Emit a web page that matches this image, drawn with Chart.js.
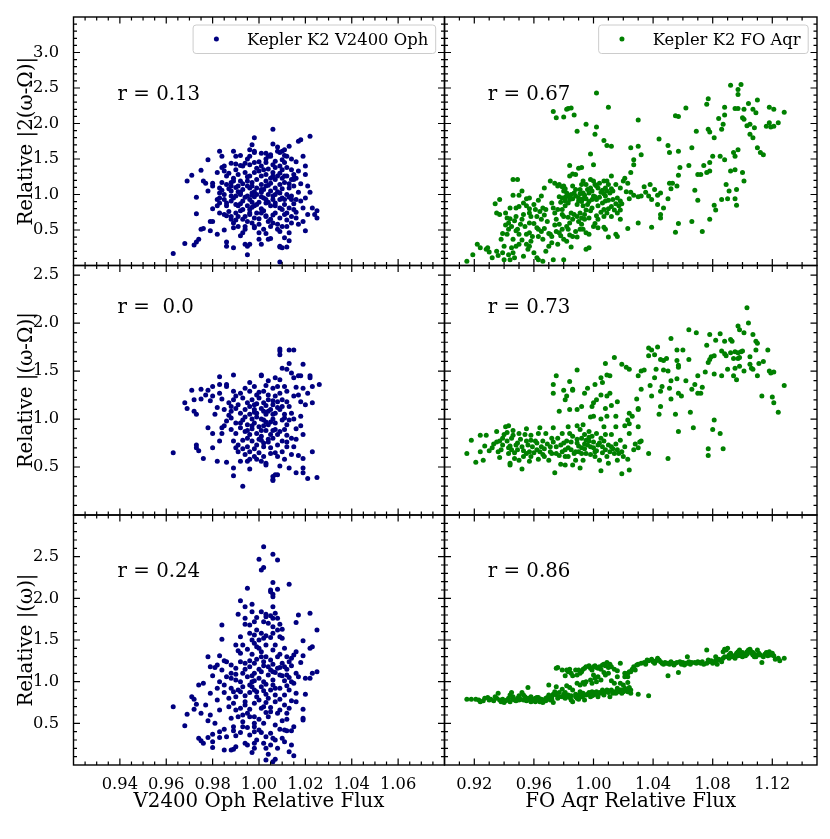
<!DOCTYPE html>
<html>
<head>
<meta charset="utf-8">
<script src="https://cdn.jsdelivr.net/npm/chart.js@4.4.0/dist/chart.umd.min.js"></script>
<style>
  html, body { margin: 0; padding: 0; background: #fff; }
  #fig { position: relative; width: 830px; height: 839px; overflow: hidden; }
  #fig canvas { position: absolute; left: 0; top: 0; }
</style>
</head>
<body>
<div id="fig">
  <canvas id="p0" width="830" height="839"></canvas>
  <canvas id="p1" width="830" height="839"></canvas>
  <canvas id="p2" width="830" height="839"></canvas>
  <canvas id="p3" width="830" height="839"></canvas>
  <canvas id="p4" width="830" height="839"></canvas>
  <canvas id="p5" width="830" height="839"></canvas>
</div>
<script>
// tick labels and titles
const ophFluxTicks = [0.94, 0.96, 0.98, 1.00, 1.02, 1.04, 1.06];
const aqrFluxTicks = [0.92, 0.96, 1.00, 1.04, 1.08, 1.12];
const topRowTicks = [0.5, 1.0, 1.5, 2.0, 2.5, 3.0];
const lowerRowTicks = [0.5, 1.0, 1.5, 2.0, 2.5];
const rowTitles = ['Relative |2(ω-Ω)|', 'Relative |(ω-Ω)|', 'Relative |(ω)|'];
const colTitles = ['V2400 Oph Relative Flux', 'FO Aqr Relative Flux'];
const legendNames = ['Kepler K2 V2400 Oph', 'Kepler K2 FO Aqr'];
const ophR = ['0.13', ' 0.0', '0.24'];
const aqrR = ['0.67', '0.73', '0.86'];

// V2400 Oph: flux vs relative |2(w-W)|
const ophTop = [
  [0.963,0.17],[0.968,0.31],[0.969,1.19],[0.971,1.27],[0.972,0.29],[0.973,0.33],[0.974,0.37],[0.973,0.96],[0.973,0.73],[0.975,0.51],
  [0.975,1.34],[0.976,1.19],[0.977,1.16],[0.976,0.52],[0.978,1.49],[0.979,0.62],[0.980,0.62],[0.979,0.49],[0.980,1.12],[0.980,1.16],
  [0.982,1.31],[0.983,1.61],[0.982,0.93],[0.982,0.84],[0.983,0.74],[0.983,1.09],[0.984,1.54],[0.984,1.38],[0.985,1.40],[0.985,0.93],
  [0.986,0.88],[0.986,0.33],[0.986,0.27],[0.989,0.25],[0.990,1.43],[0.988,1.17],[0.988,1.12],[0.988,0.98],[0.989,0.53],[0.988,0.65],
  [0.987,0.76],[0.990,1.54],[0.992,1.19],[0.992,1.00],[0.991,0.84],[0.991,0.69],[0.993,0.65],[0.993,0.46],[0.994,0.30],[0.995,0.15],
  [0.995,0.27],[0.994,0.55],[0.996,0.30],[0.997,1.70],[0.998,1.80],[0.998,1.61],[0.997,1.12],[0.996,0.93],[0.998,0.84],[0.996,0.74],
  [0.999,0.74],[1.000,0.46],[1.000,0.37],[1.001,0.30],[1.002,1.35],[1.003,0.69],[1.004,0.37],[1.005,0.38],[1.006,1.71],[1.006,1.92],
  [1.005,1.56],[1.006,1.26],[1.007,0.84],[1.008,0.51],[1.009,0.26],[1.009,0.27],[1.010,0.25],[1.012,0.26],[1.011,0.39],[1.009,0.05],
  [1.010,1.61],[1.011,1.63],[1.013,1.68],[1.011,1.45],[1.011,0.93],[1.012,0.74],[1.012,0.55],[1.014,0.60],[1.013,0.46],[1.015,1.23],
  [1.015,1.21],[1.014,0.98],[1.015,0.79],[1.016,0.67],[1.016,0.93],[1.016,1.46],[1.017,1.75],[1.018,1.77],[1.019,1.54],[1.020,1.40],
  [1.020,1.28],[1.021,1.12],[1.018,0.91],[1.019,0.81],[1.019,0.62],[1.020,0.49],[1.022,1.82],[1.023,0.81],[1.024,0.72],[1.025,0.77],
  [1.025,0.67],[1.021,0.72],
  [0.989,1.61],[0.992,1.55],[0.995,1.50],[0.996,1.54],[0.998,1.59],[1.001,1.58],[1.003,1.58],[1.004,1.54],[1.005,1.54],[1.008,1.61],
  [1.009,1.59],[1.010,1.49],[1.012,1.54],[1.014,1.50],
  [0.988,1.44],[0.990,1.35],[0.992,1.41],[0.993,1.40],[0.996,1.42],[0.998,1.45],[1.000,1.46],[1.001,1.40],[1.003,1.45],[1.006,1.42],
  [1.009,1.40],[1.010,1.35],[1.012,1.38],[1.014,1.35],[1.015,1.28],
  [0.985,1.33],[0.987,1.30],[0.989,1.23],[0.991,1.28],[0.994,1.31],[0.996,1.26],[0.998,1.31],[1.001,1.26],[1.003,1.28],[1.005,1.23],
  [1.006,1.31],[1.008,1.26],[1.010,1.23],[1.012,1.26],[1.014,1.21],[1.016,1.23],
  [0.984,1.17],[0.986,1.14],[0.989,1.19],[0.991,1.12],[0.993,1.15],[0.995,1.12],[0.997,1.17],[0.999,1.09],[1.001,1.14],[1.003,1.12],
  [1.005,1.16],[1.007,1.09],[1.009,1.14],[1.011,1.17],[1.013,1.09],[1.015,1.12],
  [0.983,1.02],[0.985,1.00],[0.988,1.05],[0.990,0.98],[0.992,1.03],[0.995,0.98],[0.997,1.02],[0.998,0.97],[1.001,1.03],[1.002,0.95],
  [1.004,1.00],[1.006,0.98],[1.009,1.02],[1.010,0.95],[1.012,1.00],[1.014,0.93],
  [0.983,0.88],[0.986,0.84],[0.988,0.91],[0.990,0.86],[0.993,0.91],[0.995,0.84],[0.997,0.89],[0.999,0.86],[1.001,0.80],[1.003,0.88],
  [1.005,0.84],[1.007,0.88],[1.009,0.81],[1.011,0.86],[1.013,0.81],[1.015,0.87],
  [0.985,0.72],[0.988,0.69],[0.990,0.74],[0.992,0.77],[0.994,0.69],[0.996,0.72],[0.998,0.67],[1.001,0.74],[1.003,0.70],[1.005,0.65],
  [1.007,0.74],[1.009,0.67],[1.011,0.72],[1.014,0.69],
  [0.989,0.60],[0.991,0.55],[0.994,0.51],[0.997,0.60],[0.998,0.53],[1.000,0.58],[1.002,0.51],[1.005,0.55],[1.006,0.60],[1.009,0.48],
  [1.010,0.55],
  [0.993,1.07],[0.996,1.09],[0.999,1.21],[1.002,1.07],[1.004,1.13],[1.007,1.21],[1.000,0.89],[1.003,0.93],[0.997,0.82],[1.006,0.93],
  [1.008,1.04],[1.010,1.08],[0.994,0.96],[0.991,1.04],[0.989,0.95],[0.987,1.08],[0.995,1.25],[1.000,1.33],[1.004,1.36],[1.007,1.38],
  [1.009,1.30],[0.998,1.04],[1.001,0.97],[1.005,1.05],[0.992,0.87],[0.996,0.79],[1.002,0.77],[1.006,0.71],[1.010,0.79],[1.013,0.96],
  [1.013,1.15],[1.011,1.26],[0.999,1.37],[0.994,1.44],[1.003,1.50],[1.007,1.47],[1.011,1.55],[0.986,1.26],[0.984,1.06],[0.983,0.95],
  [0.986,0.70],[0.990,0.64],[0.995,0.62],[1.000,0.66],[1.004,0.62],[1.008,0.58],[1.012,0.64],[1.016,0.75],[1.017,1.03],[1.017,1.33],
  [0.997,0.99],[1.001,1.07],[1.004,0.89],[0.999,1.00],[1.003,1.19],[0.995,1.19],[1.007,1.00],[1.009,0.93],[0.993,0.79],[0.990,1.10],
  [0.998,0.55],[1.003,0.45],[0.992,0.42],[1.013,0.35],[0.996,1.63],[1.008,1.67],[0.980,0.80],[0.978,1.05],[1.020,0.95],[1.022,1.03],
  [1.018,1.15],[1.017,0.58],[0.985,0.50],[0.982,0.44]
];

// V2400 Oph: flux vs relative |(w-W)|
const ophMid = [
  [0.963,0.65],[0.968,1.17],[0.969,1.11],[0.971,1.30],[0.972,1.20],[0.972,1.08],[0.973,1.05],[0.973,0.73],[0.973,0.70],[0.974,0.67],
  [0.976,0.59],[0.975,1.31],[0.975,1.21],[0.977,1.25],[0.978,0.91],[0.980,0.85],[0.980,0.70],[0.980,1.34],[0.980,1.24],[0.982,0.56],
  [0.983,0.77],[0.983,1.44],[0.983,1.36],[0.983,1.27],[0.984,0.91],[0.984,0.85],[0.986,0.55],[0.986,1.36],[0.986,1.34],[0.989,1.46],
  [0.989,0.49],[0.989,0.41],[0.993,0.30],[0.992,0.56],[0.995,0.56],[0.996,0.58],[0.998,0.61],[0.999,0.58],[1.003,0.54],[1.003,0.52],
  [1.006,0.37],[1.006,0.40],[1.007,0.42],[1.008,0.42],[1.006,0.36],[1.009,1.71],[1.009,1.73],[1.013,1.72],[1.015,1.72],[1.009,1.67],
  [1.013,1.58],[1.010,1.53],[1.001,1.46],[1.001,1.45],[1.007,1.43],[1.012,1.52],[1.014,1.48],[1.015,1.43],[1.017,1.45],[1.018,1.45],
  [1.019,1.57],[1.022,1.45],[1.022,1.43],[1.019,1.32],[1.023,1.34],[1.026,1.36],[1.023,1.17],[1.020,1.15],[1.018,1.03],[1.019,0.84],
  [1.023,0.66],[1.019,0.59],[1.019,0.49],[1.019,0.44],[1.016,0.44],[1.021,0.38],[1.025,0.39],[1.013,0.49],[1.014,0.63],[1.015,0.71],
  [1.016,0.90],[1.015,1.00],[1.014,1.06],[1.015,1.24],[1.012,1.29],[1.011,1.34],[1.008,1.34],
  [0.989,1.29],[0.992,1.27],[0.994,1.32],[0.996,1.29],[0.998,1.34],[0.999,1.25],[1.002,1.29],[1.004,1.25],[1.006,1.32],[1.009,1.27],
  [0.987,1.17],[0.989,1.20],[0.991,1.15],[0.993,1.22],[0.995,1.17],[0.997,1.20],[0.998,1.15],[1.000,1.22],[1.002,1.17],[1.004,1.20],
  [1.006,1.15],[1.008,1.18],[1.010,1.13],[1.012,1.18],
  [0.985,1.10],[0.988,1.08],[0.990,1.11],[0.992,1.06],[0.994,1.10],[0.996,1.05],[0.998,1.10],[0.999,1.06],[1.001,1.11],[1.003,1.05],
  [1.005,1.10],[1.007,1.06],[1.009,1.10],[1.011,1.05],
  [0.986,0.98],[0.988,1.01],[0.990,0.96],[0.993,0.99],[0.995,0.94],[0.997,1.00],[0.998,0.96],[1.000,0.92],[1.002,0.99],[1.004,0.94],
  [1.006,1.00],[1.007,0.96],[1.010,0.99],[1.012,0.94],[1.013,0.99],
  [0.988,0.89],[0.990,0.85],[0.992,0.91],[0.994,0.87],[0.996,0.84],[0.997,0.90],[0.999,0.85],[1.001,0.82],[1.003,0.88],[1.005,0.84],
  [1.007,0.89],[1.008,0.84],[1.011,0.89],[1.012,0.83],
  [0.989,0.77],[0.991,0.73],[0.993,0.78],[0.995,0.71],[0.997,0.77],[0.999,0.73],[1.001,0.78],[1.002,0.71],[1.004,0.76],[1.006,0.80],
  [1.008,0.73],[1.010,0.77],[1.012,0.71],
  [0.991,0.66],[0.994,0.63],[0.996,0.66],[1.000,0.65],[1.002,0.61],[1.005,0.64],[1.008,0.61],[1.010,0.66],[1.011,0.58],
  [0.999,1.02],[1.001,0.88],[1.003,1.14],[1.005,0.97],[1.007,1.24],[1.004,0.79],[1.002,1.08],[0.997,0.93],[0.996,1.13],[1.000,1.28],
  [1.003,1.35],[1.006,1.05],[1.009,0.87],[1.008,1.12],[1.010,1.20],[0.994,1.02],[0.992,0.96],[0.990,1.24],[0.987,1.04],[0.985,0.93],
  [0.995,0.80],[0.998,0.69],[1.002,0.75],[1.005,0.70],[1.007,0.65],[1.000,0.79],[1.003,0.97],[1.006,1.19],[0.999,1.16],[1.001,1.00],
  [1.011,1.01],[1.013,1.13],[1.014,0.80],[1.012,0.76],[0.993,0.69],[0.990,0.70],[0.988,1.13],[0.984,1.21],[0.982,1.12],[0.979,1.19],
  [0.978,1.30],[0.981,1.05],[0.996,1.38],[1.004,1.40],[1.009,1.41],[1.016,1.33],[1.017,1.25],[1.018,1.18],[1.021,1.27],[1.018,0.93],
  [1.016,0.79],[1.017,0.62],[1.009,0.51],[1.001,0.56],[0.996,0.48],[1.004,1.08],[1.002,0.93],[0.998,1.07],[1.006,0.88],[0.995,0.88]
];

// V2400 Oph: flux vs relative |(w)|
const ophBot = [
  [0.963,0.70],[0.968,0.47],[0.969,0.61],[0.971,0.82],[0.972,0.79],[0.973,0.73],[0.972,0.67],[0.974,0.96],[0.976,0.98],[0.975,0.62],
  [0.974,0.32],[0.975,0.29],[0.976,0.26],[0.978,1.30],[0.979,1.18],[0.978,0.53],[0.979,0.60],[0.978,0.33],[0.980,0.21],[0.980,0.28],
  [0.980,0.37],[0.980,1.07],[0.981,1.17],[0.982,1.20],[0.982,0.78],[0.983,0.66],[0.983,1.31],[0.983,1.00],[0.984,1.68],[0.984,1.51],
  [0.985,1.25],[0.986,1.24],[0.983,0.40],[0.983,0.33],[0.985,0.18],[0.986,0.34],[0.986,1.06],[0.985,0.87],[0.987,0.70],[0.988,0.56],
  [0.988,0.18],[0.989,0.19],[0.990,1.44],[0.991,1.81],[0.991,1.37],[0.991,0.90],[0.989,0.88],[0.989,0.41],[0.990,0.22],[0.992,1.97],
  [0.993,1.44],[0.994,1.90],[0.995,2.12],[0.994,1.76],[0.994,1.69],[0.994,1.22],[0.993,1.10],[0.994,0.76],[0.993,0.46],[0.994,0.26],
  [0.995,0.24],[0.997,1.93],[0.997,1.84],[0.996,1.68],[0.997,1.50],[0.997,0.15],[0.998,0.20],[0.998,0.26],[0.998,0.50],[0.999,0.82],
  [1.000,2.47],[1.001,2.34],[1.002,2.62],[1.002,2.37],[1.002,1.72],[1.003,1.81],[1.003,1.78],[1.006,2.53],[1.008,2.46],[1.006,2.19],
  [1.005,2.08],[1.005,2.10],[1.006,2.05],[1.008,2.11],[1.006,2.02],[1.006,1.90],[1.007,1.82],[1.005,1.79],[1.006,1.76],[1.008,1.76],
  [1.009,1.69],[1.008,1.62],[1.010,1.63],[1.005,1.53],[1.013,2.17],[1.003,0.06],[1.006,0.04],[1.007,0.07],[1.003,0.20],[1.002,0.26],
  [1.005,0.24],[1.006,0.32],[1.007,0.30],[1.011,0.28],[1.014,0.24],[1.015,0.11],[1.013,0.16],[1.011,0.42],[1.012,0.41],[1.014,0.41],
  [1.015,0.46],[1.009,0.43],[1.010,0.53],[1.012,0.55],[1.012,0.62],[1.019,0.56],[1.019,0.54],[1.019,0.67],[1.016,0.76],[1.016,0.86],
  [1.015,0.98],[1.017,1.06],[1.020,1.04],[1.020,0.85],[1.022,1.04],[1.023,1.10],[1.025,1.12],[1.022,1.40],[1.023,1.42],[1.022,1.82],
  [1.025,1.62],[1.019,1.49],[1.019,1.31],[1.018,1.23],[1.017,1.80],[1.016,1.71],[1.016,1.36],[1.015,1.32],[1.014,1.28],[1.012,1.30],
  [0.992,1.34],[0.995,1.39],[0.997,1.33],[0.999,1.42],[1.001,1.36],[1.003,1.30],[1.006,1.38],[1.009,1.33],[1.011,1.40],[0.998,1.46],
  [1.003,1.44],
  [0.988,1.20],[0.990,1.16],[0.992,1.24],[0.996,1.18],[0.998,1.22],[1.000,1.15],[1.002,1.24],[1.004,1.18],[1.006,1.21],[1.008,1.16],
  [1.010,1.22],[1.012,1.15],[1.014,1.19],[1.005,1.14],
  [0.988,1.04],[0.990,1.09],[0.992,1.00],[0.995,1.06],[0.997,1.00],[0.998,1.10],[1.000,1.04],[1.002,1.00],[1.004,1.08],[1.006,1.02],
  [1.009,1.08],[1.011,1.01],[1.012,1.08],[1.014,1.00],
  [0.988,0.92],[0.990,0.82],[0.993,0.94],[0.996,0.87],[0.997,0.94],[0.999,0.88],[1.001,0.94],[1.003,0.85],[1.005,0.90],[1.007,0.84],
  [1.009,0.92],[1.011,0.84],[1.013,0.90],[0.998,0.90],
  [0.989,0.74],[0.992,0.68],[0.994,0.72],[0.996,0.67],[0.998,0.74],[1.001,0.68],[1.003,0.75],[1.005,0.69],[1.007,0.76],[1.009,0.66],
  [1.011,0.72],[1.013,0.68],
  [0.991,0.58],[0.993,0.52],[0.996,0.58],[0.998,0.46],[1.000,0.55],[1.002,0.50],[1.004,0.58],[1.007,0.48],[1.008,0.62],[0.989,0.46],
  [0.992,0.39],[0.996,0.36],[0.999,0.30],[1.001,0.39],[1.003,0.34],[0.998,0.40],
  [0.999,1.62],[1.001,1.58],[0.998,1.56],[1.000,1.50],[1.002,1.52],[1.006,1.58],[1.009,1.54],[1.010,1.52],[0.998,1.72],[1.001,1.84],
  [0.996,1.58],[0.992,1.54],
  [0.999,1.27],[1.001,1.12],[1.003,0.97],[1.005,1.26],[1.007,1.11],[1.004,0.80],[1.002,1.19],[0.997,1.07],[0.996,0.96],[1.000,0.78],
  [1.003,0.63],[1.006,0.96],[1.009,1.17],[1.008,1.30],[1.010,1.07],[0.994,1.15],[0.992,0.88],[0.990,1.02],[0.987,0.80],[0.985,0.96],
  [0.995,0.62],[0.998,0.58],[1.002,0.70],[1.005,0.64],[1.007,1.44],[1.000,1.40],[1.003,1.55],[1.006,1.66],[0.999,1.77],[1.004,1.70],
  [1.011,1.18],[1.013,1.05],[1.014,0.77],[1.012,0.95],[0.993,0.60],[0.990,0.66],[0.988,1.10],[0.984,1.14],[0.982,0.92],[0.979,0.86],
  [0.977,0.72],[0.981,0.50],[0.985,0.43],[0.990,0.35],[0.995,0.45],[1.000,0.42],[1.005,0.38],[1.010,0.32],[1.008,0.20],[1.004,0.13],
  [0.996,1.25],[1.001,1.30],[1.006,1.12],[0.998,1.01],[1.002,0.89],[1.007,0.92],[0.994,0.83],[1.009,0.79],[1.013,1.24],[1.016,1.10]
];

// FO Aqr: flux vs relative |2(w-W)|
const aqrTop = [
  [0.973,2.17],[0.975,2.08],[0.980,2.09],[0.982,2.20],[0.983,2.21],[0.985,2.22],[0.987,2.12],[0.989,1.89],[0.995,1.99],[1.002,2.43],
  [1.002,1.95],[1.001,1.85],[1.010,2.23],[1.007,1.76],[1.009,1.69],[1.012,1.68],[1.030,2.05],[1.025,1.66],[1.030,1.68],[1.032,1.56],
  [1.027,1.49],[1.027,1.42],[0.998,1.57],[1.000,1.42],[0.984,1.41],[0.992,1.38],[0.990,1.37],[0.986,1.29],
  [1.092,2.54],[1.099,2.55],[1.097,2.48],[1.097,2.41],[1.077,2.35],[1.076,2.27],[1.088,2.23],[1.095,2.21],[1.097,2.21],[1.101,2.20],
  [1.104,2.28],[1.110,2.33],[1.107,2.20],[1.109,2.15],[1.118,2.23],[1.121,2.20],[1.128,2.16],[1.088,2.12],[1.084,2.07],[1.055,2.11],
  [1.057,2.10],[1.062,2.22],[1.101,2.06],[1.100,2.08],[1.105,1.99],[1.103,1.97],[1.108,1.94],[1.116,1.96],[1.119,1.95],[1.121,1.96],
  [1.124,2.01],[1.118,2.01],[1.077,1.92],[1.078,1.88],[1.081,1.80],[1.086,1.92],[1.087,1.99],[1.105,1.85],[1.107,1.80],[1.110,1.66],
  [1.112,1.59],[1.114,1.56],[1.097,1.63],[1.094,1.59],[1.095,1.54],[1.088,1.49],[1.085,1.54],[1.080,1.54],[1.078,1.45],[1.074,1.41],
  [1.078,1.33],[1.076,1.31],[1.072,1.28],[1.070,1.28],[1.064,1.41],[1.058,1.38],[1.051,1.59],[1.057,1.61],[1.066,1.66],[1.069,1.89],
  [1.044,1.78],[1.050,1.69],
  [1.092,1.33],[1.095,1.35],[1.100,1.31],[1.101,1.19],[1.089,1.14],[1.091,1.05],[1.096,1.07],[1.095,0.94],[1.096,0.85],[1.086,0.93],
  [1.090,0.94],[1.081,0.85],[1.082,0.78],[1.078,0.65],[1.073,0.48],[1.068,1.06],[1.070,0.92],[1.066,0.62],[1.057,0.59],[1.055,0.47],
  [1.057,1.27],[1.056,1.12],[1.053,1.16],[1.051,1.16],[1.052,1.08],[1.050,0.94],[1.047,0.81],[1.045,0.72],[1.045,0.67],[1.043,0.86],
  [1.045,1.02],[1.041,1.07],[1.038,1.14],[1.039,0.93],[1.037,0.98],[1.034,1.11],[1.030,0.97],[1.032,0.98],[1.039,0.54],[1.030,0.60],
  [1.024,0.94],[1.025,1.03],[1.023,1.16],[1.021,1.23],[1.025,1.31],[1.020,1.19],[1.015,1.14],[1.012,1.26],[1.009,1.19],[1.007,1.19],
  [0.946,1.21],[0.949,1.21],[0.946,0.99],[0.950,0.99],[0.955,0.94],[0.952,1.05],[0.937,0.93],[0.934,0.87],[0.935,0.74],[0.937,0.72],
  [0.942,0.67],[0.944,0.66],[0.943,0.60],[0.945,0.55],[0.943,0.51],[0.948,0.49],[0.949,0.51],[0.942,0.44],[0.940,0.27],[0.939,0.18],
  [0.945,0.25],[0.946,0.18],[0.947,0.11],[0.943,0.15],[0.944,0.08],[0.948,0.27],[0.950,0.30],[0.956,0.23],[0.957,0.27],[0.955,0.30],
  [0.955,0.44],[0.957,0.46],[0.959,0.41],[0.962,0.53],[0.963,0.51],[0.960,0.59],[0.958,0.69],[0.957,0.74],[0.963,0.92],[0.965,0.98],
  [0.967,1.09],[0.971,1.19],[0.974,1.16],[0.976,1.12],[0.977,1.14],[0.979,1.11],[0.980,1.12],[0.982,1.02],[0.980,1.05],[0.977,0.97],
  [0.979,0.95],[0.981,0.96],[0.983,0.98],[0.984,0.93],[0.986,0.94],[0.988,0.98],[0.990,0.91],[0.989,0.86],[0.992,0.90],[0.995,0.94],
  [0.997,1.02],[0.998,1.09],[1.000,1.19],[1.001,1.14],[1.003,1.09],[1.005,1.03],[1.007,1.01],[1.009,1.05],[1.011,1.02],[1.013,0.93],
  [1.015,0.87],[1.017,0.84],[1.018,0.78],[1.019,0.87],[1.018,0.91],[1.016,0.74],[1.018,0.65],[1.012,0.69],[1.009,0.74],[1.007,0.69],
  [1.003,0.65],[1.001,0.59],[1.000,0.55],[1.003,0.53],[1.007,0.54],[1.008,0.51],[0.999,0.81],[0.995,0.78],[0.993,0.84],[0.991,0.74],
  [0.989,0.69],[0.990,0.62],[0.986,0.65],[0.984,0.60],[0.982,0.55],[0.979,0.51],[0.977,0.58],[0.975,0.65],[0.974,0.74],[0.973,0.81],
  [0.972,0.88],[0.968,0.79],[0.966,0.81],[0.965,0.65],[0.962,0.69],[0.961,0.79],[0.957,0.80],[0.955,0.84],[0.950,0.83],[0.948,0.81],
  [0.957,0.95],[0.953,0.88],[0.995,0.46],[0.997,0.44],[0.997,0.25],[0.995,0.23],[0.989,0.40],[0.986,0.41],[0.984,0.43],[0.983,0.51],
  [0.980,0.37],[0.977,0.46],[0.975,0.48],[0.972,0.41],[0.971,0.44],[0.970,0.45],[0.972,0.32],[0.970,0.27],[0.966,0.37],[0.965,0.48],
  [0.962,0.11],[0.963,0.08],[0.966,0.06],[0.980,0.08],[0.985,0.26],[0.993,0.51],[0.991,0.51],[0.994,0.65],[0.997,0.67],
  [0.928,0.23],[0.924,0.25],[0.922,0.30],[0.929,0.25],[0.919,0.15],[0.915,0.06],[0.932,0.11],[0.936,0.14],[0.940,0.08],[0.930,0.19],
  [1.016,0.41],[1.015,0.44],[1.010,0.40],[1.023,0.52],
  [0.984,1.26],[0.988,1.28],[0.993,1.19],[0.995,1.14],[0.998,1.21],[1.002,1.12],[1.008,1.09],[1.012,1.08],[1.000,0.98],[1.002,0.93],
  [1.003,0.84],[1.006,0.88],[1.008,0.91],[1.007,0.79],[0.999,0.93],[0.993,1.02],[0.991,1.07],[0.988,1.07],[0.985,1.00],[0.983,0.88],
  [0.981,0.84],[0.979,0.79],[0.980,0.69],[0.985,0.74],[0.992,0.67],[0.944,0.81],[0.941,0.74],[0.948,0.69],[0.952,0.65],[0.954,0.55],
  [0.950,0.44],[0.946,0.37],[0.938,0.37],[0.935,0.20],[0.960,0.18],[0.953,0.13],[0.968,0.20],[0.973,0.08],
  [0.990,0.95],[0.994,0.99],[0.997,0.90],[1.001,0.97],[1.004,0.96],[1.006,1.06],[1.008,0.98],[1.010,0.92],[1.012,0.83],[0.996,0.86],
  [0.993,0.94],[0.991,1.01],[0.987,1.02],[0.984,0.96],[0.981,0.91],[0.978,0.89],[0.976,0.79],[0.979,0.72],[0.983,0.68],[0.987,0.72],
  [0.994,0.72],[0.998,0.77],[1.002,0.70],[1.005,0.75],[1.010,0.80],[1.014,0.78],[1.016,0.95],[1.013,1.05],[0.999,1.05],[0.996,1.07],
  [0.969,0.62],[0.967,0.71],[0.964,0.76],[0.960,0.86],[0.957,0.60],[0.953,0.72],[0.951,0.58],[0.947,0.63],[0.941,0.57],[0.939,0.45],
  [0.952,0.36],[0.958,0.34],[0.963,0.41],[0.967,0.52],[0.974,0.57],[0.978,0.42],[0.982,0.34],[0.988,0.48],[0.992,0.58],[0.976,0.30],
  [0.981,1.08],[0.986,1.12],[0.992,1.14],[1.004,1.16],[1.010,1.14],[1.018,1.09],[1.022,1.04],[1.027,0.99],[1.035,1.03],[1.043,0.99]
];

// FO Aqr: flux vs relative |(w-W)|
const aqrMid = [
  [1.103,2.16],[1.104,2.00],[1.097,1.97],[1.098,1.93],[1.101,1.90],[1.107,1.88],[1.109,1.81],[1.110,1.79],[1.064,1.93],[1.069,1.90],
  [1.078,1.88],[1.085,1.89],[1.082,1.82],[1.088,1.81],[1.092,1.83],[1.093,1.81],[1.076,1.77],[1.052,1.84],[1.056,1.72],[1.060,1.72],
  [1.037,1.74],[1.039,1.72],[1.043,1.75],[1.037,1.66],[1.041,1.67],[1.045,1.62],[1.047,1.61],[1.049,1.63],[1.056,1.61],[1.057,1.56],
  [1.057,1.54],[1.064,1.62],[1.078,1.62],[1.079,1.65],[1.081,1.66],[1.077,1.59],[1.086,1.71],[1.088,1.68],[1.089,1.66],[1.092,1.69],
  [1.095,1.70],[1.097,1.69],[1.099,1.70],[1.100,1.71],[1.094,1.63],[1.097,1.63],[1.098,1.64],[1.090,1.52],[1.095,1.53],[1.098,1.55],
  [1.105,1.65],[1.105,1.57],[1.106,1.53],[1.107,1.52],[1.111,1.58],[1.114,1.60],[1.117,1.72],[1.109,1.72],[1.110,1.45],[1.118,1.50],
  [1.121,1.49],[1.119,1.48],[1.094,1.45],[1.096,1.41],[1.101,1.50],[1.081,1.47],[1.086,1.45],[1.075,1.49],[1.070,1.45],[1.113,1.24],
  [1.120,1.23],[1.121,1.17],[1.124,1.07],[1.128,1.35],[1.081,0.99],[1.080,0.89],[1.085,0.85],[1.087,0.69],[1.077,0.69],[1.077,0.62],
  [1.067,0.91],[1.057,0.87],[1.055,1.05],[1.065,1.07],[1.052,1.21],[1.057,1.27],[1.059,1.24],[1.062,1.40],[1.068,1.36],[1.066,1.31],
  [1.070,1.27],[1.072,1.27],[1.073,1.33],[1.056,1.42],[1.052,1.40],[1.051,1.32],[1.050,1.50],[1.047,1.51],[1.041,1.43],[1.042,1.52],
  [1.045,1.29],[1.046,1.34],[1.038,1.35],[1.039,1.24],[1.045,1.13],[1.044,1.05],[1.050,0.59],[1.037,0.64],[1.032,1.50],[1.034,1.51],
  [1.030,1.45],[1.032,1.31],[1.029,1.21],[1.030,1.11],[1.030,1.10],[1.024,1.06],[1.026,1.03],[1.023,0.99],[1.024,0.95],[1.021,0.93],
  [1.030,0.92],[1.024,0.85],[1.019,1.57],[1.022,1.54],[1.024,1.52],[1.014,1.64],[1.008,1.58],[1.009,1.46],[1.011,1.45],[1.005,1.43],
  [1.001,1.36],[1.006,1.38],[1.011,1.27],[1.009,1.24],[1.005,1.25],[1.002,1.20],[1.000,1.17],[0.999,1.13],[0.998,1.02],[1.000,1.03],
  [1.005,1.00],[1.008,1.11],[1.009,1.03],[1.015,1.03],[1.016,1.18],[1.012,1.14],[0.996,1.32],[0.994,1.27],[0.989,1.51],[0.984,1.39],
  [0.986,1.30],[0.982,1.24],[0.981,1.20],[0.992,1.13],[0.989,1.10],[0.984,1.10],[0.977,1.08],[0.975,1.45],[0.973,1.36],[0.973,1.27],
  [0.980,1.30],[0.986,1.31],
  [0.915,0.64],[0.918,0.78],[0.921,0.55],[0.924,0.83],[0.926,0.57],[0.924,0.66],[0.928,0.83],[0.927,0.72],[0.930,0.67],[0.932,0.70],
  [0.935,0.87],[0.935,0.76],[0.937,0.77],[0.938,0.68],[0.937,0.60],[0.940,0.84],[0.941,0.92],[0.943,0.93],[0.942,0.77],[0.944,0.72],
  [0.945,0.80],[0.946,0.88],[0.946,0.83],[0.947,0.65],[0.944,0.54],[0.944,0.52],[0.949,0.75],[0.950,0.85],[0.952,0.71],[0.952,0.48],
  [0.950,0.57],[0.954,0.84],[0.955,0.90],[0.955,0.77],[0.957,0.66],[0.957,0.56],[0.958,0.83],[0.959,0.71],[0.961,0.77],[0.963,0.85],
  [0.964,0.66],[0.965,0.71],[0.966,0.77],[0.967,0.61],[0.968,0.85],[0.970,0.57],[0.971,0.71],[0.973,0.91],[0.973,0.76],[0.974,0.44],
  [0.975,0.64],[0.976,0.80],[0.978,0.73],[0.979,0.85],[0.981,0.61],[0.981,0.52],[0.982,0.77],[0.984,0.85],[0.985,0.68],[0.986,0.82],
  [0.988,0.57],[0.989,0.93],[0.989,0.75],[0.990,0.66],[0.991,0.49],[0.992,0.80],[0.993,0.94],[0.994,0.74],[0.995,0.78],[0.995,0.64],
  [0.997,0.87],[0.998,0.71],[0.999,0.82],[1.000,0.76],[1.001,0.61],[1.002,0.85],[1.003,0.73],[1.005,0.46],[1.006,0.65],[1.007,0.77],
  [1.008,0.84],[1.010,0.54],[1.011,0.66],[1.012,0.84],[1.014,0.64],[1.015,0.74],[1.016,0.57],[1.017,0.64],[1.018,0.78],[1.019,0.43],
  [1.020,0.61],[1.021,0.71],[1.024,0.47],[1.023,0.58],[1.027,0.68],[1.028,0.74],[1.031,0.76],[1.030,0.70],[1.032,0.77],
  [0.939,0.73],[0.943,0.64],[0.949,0.68],[0.953,0.61],[0.958,0.61],[0.962,0.68],[0.967,0.69],[0.972,0.64],[0.979,0.66],[0.983,0.61],
  [0.988,0.66],[0.992,0.70],[0.994,0.84],[0.997,0.77],[1.001,0.66],[1.004,0.57],[1.009,0.61],[1.012,0.71],[0.993,0.57],[0.986,0.52],
  [0.978,0.53],[0.963,0.58],[0.955,0.64],[0.947,0.59],[0.942,0.86],[0.964,0.91],[0.983,0.92],[0.991,0.89],[1.007,0.92],[1.015,0.92],
  [0.933,0.74],[0.936,0.66],[0.939,0.80],[0.943,0.70],[0.948,0.73],[0.951,0.79],[0.953,0.67],[0.956,0.73],[0.960,0.65],[0.962,0.75],
  [0.966,0.63],[0.969,0.74],[0.971,0.66],[0.975,0.71],[0.977,0.62],[0.980,0.75],[0.983,0.70],[0.985,0.76],[0.987,0.64],[0.990,0.72],
  [0.992,0.64],[0.994,0.69],[0.996,0.73],[0.998,0.63],[1.000,0.70],[1.002,0.67],[1.004,0.75],[1.006,0.71],[1.008,0.68],[1.010,0.73],
  [1.013,0.69],[1.016,0.68],[1.019,0.66],[0.945,0.68],[0.958,0.78],[0.972,0.80],[0.981,0.68],[0.989,0.79],[0.997,0.81],[1.005,0.80]
];

// FO Aqr: flux vs relative |(w)|
const aqrBot = [
  [0.915,0.79],[0.918,0.79],[0.921,0.79],[0.923,0.78],[0.924,0.76],[0.927,0.80],[0.929,0.81],[0.931,0.79],[0.934,0.82],[0.936,0.86],
  [0.937,0.78],[0.938,0.76],[0.940,0.75],[0.941,0.77],[0.943,0.80],[0.944,0.84],[0.945,0.87],[0.946,0.82],[0.947,0.78],[0.949,0.80],
  [0.950,0.83],[0.952,0.87],[0.953,0.84],[0.954,0.82],[0.955,0.80],[0.956,0.93],[0.957,0.78],[0.958,0.82],[0.959,0.77],[0.961,0.76],
  [0.962,0.78],[0.963,0.81],[0.964,0.76],[0.965,0.79],[0.966,0.75],[0.967,0.77],[0.968,0.80],[0.970,0.96],[0.970,0.84],[0.971,0.78],
  [0.972,0.82],[0.973,0.85],[0.973,0.75],[0.974,0.88],
  [0.930,0.78],[0.935,0.80],[0.939,0.79],[0.942,0.78],[0.946,0.79],[0.948,0.77],[0.951,0.79],[0.953,0.78],[0.955,0.77],[0.957,0.80],
  [0.960,0.79],[0.962,0.81],[0.964,0.79],[0.966,0.78],[0.968,0.77],[0.969,0.81],[0.972,0.79],[0.926,0.77],[0.933,0.77],[0.944,0.76],
  [0.950,0.78],[0.956,0.79],[0.961,0.80],[0.965,0.77],[0.970,0.80],[0.958,0.76],
  [0.975,1.16],[0.976,1.17],[0.979,1.14],[0.981,1.07],[0.982,1.14],[0.984,1.15],[0.985,1.10],[0.986,1.07],[0.989,1.08],[0.990,1.14],
  [0.991,1.10],[0.992,1.12],[0.993,1.15],[0.995,1.18],[0.997,1.19],[0.998,1.16],[0.999,1.14],[1.000,1.18],[1.001,1.19],[1.002,1.17],
  [1.003,1.16],[1.005,1.15],[1.006,1.20],[1.007,1.21],[1.009,1.23],[1.011,1.21],[1.012,1.18],[1.014,1.15],[1.016,1.13],[1.018,1.22],
  [0.983,1.12],[0.988,1.14],[0.994,1.16],[1.004,1.18],[1.008,1.19],[1.010,1.17],
  [0.975,0.94],[0.979,0.91],[0.982,0.95],[0.984,0.93],[0.986,0.90],[0.989,0.98],[0.991,0.96],[0.993,0.99],[0.994,0.97],[0.995,1.00],
  [0.998,1.02],[0.999,0.98],[1.000,1.08],[1.001,1.04],[1.002,1.00],[1.003,1.06],[1.005,1.02],[1.007,1.11],[1.008,1.08],[1.010,1.10],
  [1.012,1.01],[1.014,0.98],[1.016,1.06],[1.018,0.98],[1.020,0.96],[1.023,0.99],[1.024,0.93],[1.025,0.90],[1.021,1.10],[1.023,1.06],
  [1.024,1.12],
  [0.975,0.84],[0.976,0.80],[0.977,0.87],[0.979,0.82],[0.980,0.85],[0.981,0.87],[0.982,0.82],[0.983,0.84],[0.984,0.81],[0.985,0.78],
  [0.986,0.76],[0.988,0.82],[0.989,0.80],[0.990,0.84],[0.991,0.88],[0.992,0.82],[0.993,0.86],[0.994,0.78],[0.995,0.84],[0.997,0.87],
  [0.998,0.82],[0.999,0.88],[1.000,0.84],[1.001,0.87],[1.002,0.88],[1.003,0.82],[1.005,0.86],[1.006,0.90],[1.007,0.84],[1.008,0.88],
  [1.009,0.90],[1.010,0.87],[1.011,0.82],[1.012,0.90],[1.014,0.88],[1.015,0.86],[1.016,0.92],[1.017,0.88],[1.018,0.90],[1.019,0.86],
  [1.020,0.88],[1.021,0.92],[1.023,0.88],[1.024,0.90],[1.025,0.86],[1.030,0.85],[1.037,0.83],
  [0.977,0.82],[0.981,0.80],[0.985,0.83],[0.988,0.85],[0.990,0.79],[0.993,0.83],[0.996,0.85],[0.999,0.83],[1.002,0.85],[1.004,0.87],
  [1.007,0.87],[1.010,0.89],[1.013,0.86],[1.016,0.89],[1.019,0.90],[1.022,0.89],
  [1.021,1.06],[1.023,1.10],[1.025,1.12],[1.026,1.15],[1.027,1.18],[1.028,1.14],[1.029,1.20],[1.030,1.21],[1.032,1.22],[1.034,1.23],
  [1.035,1.21],[1.036,1.26],[1.037,1.25],[1.039,1.27],[1.040,1.24],[1.041,1.22],[1.043,1.28],[1.044,1.26],[1.045,1.24],[1.046,1.22],
  [1.047,1.21],[1.050,1.22],[1.050,1.07],[1.051,1.21],[1.053,1.22],[1.054,1.20],[1.056,1.23],[1.057,1.11],[1.059,1.21],[1.061,1.20],
  [1.062,1.22],[1.063,1.30],[1.064,1.24],[1.065,1.21],[1.068,1.23],[1.070,1.24],[1.072,1.22],[1.074,1.21],[1.076,1.38],[1.077,1.26],
  [1.078,1.24],[1.080,1.22],[1.081,1.24],[1.082,1.30],[1.083,1.21],[1.085,1.26],[1.086,1.24],[1.087,1.36],[1.088,1.39],[1.089,1.38],
  [1.090,1.40],[1.090,1.30],[1.091,1.28],[1.092,1.34],[1.094,1.31],[1.095,1.28],[1.096,1.32],[1.097,1.36],[1.098,1.38],[1.099,1.34],
  [1.100,1.30],[1.101,1.33],[1.103,1.36],[1.104,1.38],[1.105,1.39],[1.106,1.34],[1.107,1.32],[1.108,1.33],[1.109,1.30],[1.110,1.38],
  [1.112,1.32],[1.113,1.23],[1.114,1.30],[1.116,1.35],[1.118,1.36],[1.119,1.32],[1.121,1.31],[1.122,1.27],[1.124,1.28],[1.125,1.25],
  [1.128,1.28],
  [1.048,1.23],[1.052,1.24],[1.055,1.22],[1.058,1.24],[1.060,1.23],[1.066,1.23],[1.069,1.22],[1.073,1.24],[1.079,1.25],[1.084,1.27],
  [1.088,1.30],[1.093,1.30],[1.097,1.31],[1.100,1.35],[1.102,1.31],[1.106,1.36],[1.108,1.30],[1.111,1.34],[1.115,1.33],
  [1.042,1.25],[1.049,1.22],[1.063,1.22],[1.071,1.23],[1.076,1.22],[1.082,1.25],[1.087,1.28],[1.091,1.32],[1.096,1.34],[1.099,1.31],
  [1.103,1.33],[1.107,1.35],[1.110,1.32],[1.117,1.31],[1.120,1.34]
];

const FONT = "'DejaVu Serif', 'Liberation Serif', serif";
const NAVY = '#000080';
const GREEN = '#008000';
const W = 830, H = 839;
const rowBounds = [[17, 265.5], [265.5, 515], [515, 765]];
const colBounds = [[73.5, 444.5], [444.5, 817]];
const rowMax = [3.5, 2.6, 3.0];
const rLabelY = [2.33, 2.1, 2.26];

function steps(min, max, step) {
  const out = [];
  for (let i = 0; min + i * step <= max + 1e-9; i++) out.push(+(min + i * step).toFixed(4));
  return out;
}

// inward ticks on all four sides, frame, r label and legend
const panelDecor = {
  id: 'panelDecor',
  afterDatasetsDraw(chart, args, o) {
    const ctx = chart.ctx;
    const a = chart.chartArea;
    const xs = chart.scales.x, ys = chart.scales.y;
    ctx.save();
    ctx.strokeStyle = '#000';
    ctx.lineWidth = 1.2;
    ctx.beginPath();
    [[o.xMinor, 3.5], [o.xMajor, 6.5]].forEach(([vals, len]) => {
      vals.forEach(v => {
        const px = xs.getPixelForValue(v);
        if (px < a.left + 0.5 || px > a.right - 0.5) return;
        ctx.moveTo(px, a.bottom); ctx.lineTo(px, a.bottom - len);
        ctx.moveTo(px, a.top); ctx.lineTo(px, a.top + len);
      });
    });
    [[o.yMinor, 3.5], [o.yMajor, 6.5]].forEach(([vals, len]) => {
      vals.forEach(v => {
        const py = ys.getPixelForValue(v);
        if (py < a.top + 0.5 || py > a.bottom - 0.5) return;
        ctx.moveTo(a.left, py); ctx.lineTo(a.left + len, py);
        ctx.moveTo(a.right, py); ctx.lineTo(a.right - len, py);
      });
    });
    ctx.stroke();
    ctx.lineWidth = 1.4;
    ctx.strokeRect(a.left, a.top, a.right - a.left, a.bottom - a.top);

    ctx.fillStyle = '#000';
    ctx.font = '19.8px ' + FONT;
    ctx.textBaseline = 'alphabetic';
    ctx.textAlign = 'left';
    ctx.fillText('r = ' + o.r, xs.getPixelForValue(o.rAt[0]), ys.getPixelForValue(o.rAt[1]));

    if (o.legend) {
      ctx.font = '16.4px ' + FONT;
      const tw = ctx.measureText(o.legend).width;
      const bw = tw + 61.5, bh = 28.5;
      const bx = a.right - 8.8 - bw, by = a.top + 8;
      ctx.beginPath();
      ctx.roundRect(bx, by, bw, bh, 3);
      ctx.fillStyle = 'rgba(255,255,255,0.8)';
      ctx.fill();
      ctx.strokeStyle = '#cccccc';
      ctx.lineWidth = 1;
      ctx.stroke();
      ctx.fillStyle = o.color;
      ctx.beginPath();
      ctx.arc(bx + 23.3, by + 14, 2.5, 0, Math.PI * 2);
      ctx.fill();
      ctx.fillStyle = '#000';
      ctx.fillText(o.legend, bx + 54, by + 19.5);
    }
    ctx.restore();
  }
};

function makePanel(canvasId, row, col, points, rText) {
  const [top, bottom] = rowBounds[row];
  const [left, right] = colBounds[col];
  const isLeft = col === 0, isBottom = row === 2;
  const color = isLeft ? NAVY : GREEN;
  const xMin = isLeft ? 0.92 : 0.90, xMax = isLeft ? 1.08 : 1.15;
  const xTicks = isLeft ? ophFluxTicks : aqrFluxTicks;
  const yTicks = row === 0 ? topRowTicks : lowerRowTicks;

  new Chart(document.getElementById(canvasId), {
    type: 'scatter',
    data: {
      datasets: [{
        data: points.map(([x, y]) => ({ x, y })),
        backgroundColor: color,
        borderWidth: 0,
        pointRadius: 2.5,
        pointHoverRadius: 2.5
      }]
    },
    options: {
      responsive: false,
      animation: false,
      events: [],
      layout: {
        autoPadding: false,
        padding: {
          left: isLeft ? 0 : left,
          right: W - right,
          top: top,
          bottom: isBottom ? H - bottom - 55 : H - bottom
        }
      },
      plugins: {
        legend: { display: false },
        tooltip: { enabled: false },
        panelDecor: {
          r: rText,
          rAt: [isLeft ? 0.939 : 0.929, rLabelY[row]],
          legend: row === 0 ? legendNames[col] : null,
          color: color,
          xMajor: isLeft ? steps(0.92, 1.08, 0.02) : steps(0.92, 1.12, 0.04),
          xMinor: isLeft ? steps(0.92, 1.08, 0.005) : steps(0.90, 1.15, 0.01),
          yMajor: steps(0, rowMax[row], 0.5),
          yMinor: steps(0, rowMax[row], 0.1)
        }
      },
      scales: {
        x: {
          type: 'linear',
          min: xMin,
          max: xMax,
          display: isBottom,
          grid: { display: false },
          border: { display: false },
          afterBuildTicks: s => { s.ticks = xTicks.map(v => ({ value: v })); },
          afterFit: s => { if (isBottom) s.height = 55; },
          ticks: {
            padding: 2,
            color: '#000',
            autoSkip: false,
            maxRotation: 0,
            font: { family: FONT, size: 16.3 },
            callback: v => v.toFixed(2)
          },
          title: {
            display: true,
            text: colTitles[col],
            color: '#000',
            font: { family: FONT, size: 19.8 },
            padding: { top: 0, bottom: 6 }
          }
        },
        y: {
          type: 'linear',
          min: 0,
          max: rowMax[row],
          display: isLeft,
          grid: { display: false },
          border: { display: false },
          afterBuildTicks: s => { s.ticks = yTicks.map(v => ({ value: v })); },
          afterFit: s => { if (isLeft) s.width = left; },
          ticks: {
            padding: 6.5,
            color: '#000',
            autoSkip: false,
            font: { family: FONT, size: 16.3 },
            callback: v => v.toFixed(1)
          },
          title: {
            display: true,
            text: rowTitles[row],
            color: '#000',
            font: { family: FONT, size: 19.8 },
            padding: { top: 14.5, bottom: 0 }
          }
        }
      }
    },
    plugins: [panelDecor]
  });
}

makePanel('p0', 0, 0, ophTop, ophR[0]);
makePanel('p1', 0, 1, aqrTop, aqrR[0]);
makePanel('p2', 1, 0, ophMid, ophR[1]);
makePanel('p3', 1, 1, aqrMid, aqrR[1]);
makePanel('p4', 2, 0, ophBot, ophR[2]);
makePanel('p5', 2, 1, aqrBot, aqrR[2]);
</script>
</body>
</html>
